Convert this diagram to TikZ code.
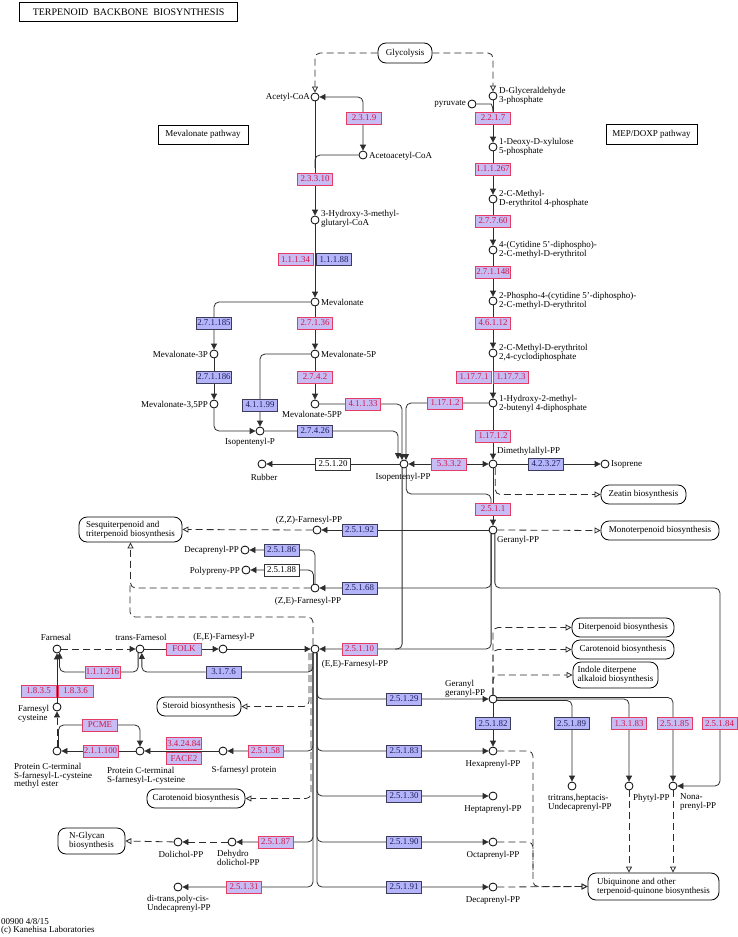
\documentclass[tikz,border=0pt]{standalone}
\usepackage{fontspec}
\setmainfont{Liberation Serif}
\usetikzlibrary{arrows.meta,calc}
\pgfdeclarelayer{back}
\pgfdeclarelayer{bg}
\pgfsetlayers{back,bg,main}
\definecolor{pfill}{RGB}{200,188,245}
\definecolor{pdraw}{RGB}{228,60,100}
\definecolor{ptext}{RGB}{210,20,70}
\definecolor{bfill}{RGB}{180,180,250}
\definecolor{bdraw}{RGB}{60,60,90}
\definecolor{btext}{RGB}{30,30,90}
\definecolor{lc}{RGB}{45,45,45}
\newcommand\kglbl{\fontsize{9}{8.8}\selectfont}
\newcommand\kgenz{\fontsize{8.9}{8.9}\selectfont}
\begin{document}
\begin{tikzpicture}[x=1pt,y=-1pt,
  cpd/.style={circle,draw=black,fill=white,line width=0.8pt,minimum size=8pt,inner sep=0pt},
  lbl/.style={font=\kglbl,inner sep=0pt,align=left},
  enz/.style={rectangle,line width=0.8pt,minimum width=35pt,minimum height=12pt,inner sep=0pt,font=\kgenz},
  pk/.style={enz,draw=pdraw,fill=pfill,text=ptext},
  bl/.style={enz,draw=bdraw,fill=bfill,text=btext},
  wh/.style={enz,draw=black!80,fill=white,text=black},
  mapbox/.style={rectangle,rounded corners=8pt,draw=black,line width=0.8pt,fill=white,font=\kglbl,inner sep=0pt,align=left},
  plainbox/.style={rectangle,draw=black,line width=0.8pt,fill=white,font=\kglbl,inner sep=0pt},
  rxn/.style={draw=lc,line width=0.8pt,rounded corners=5pt},
  dsh/.style={draw=lc,line width=0.8pt,rounded corners=5pt,dash pattern=on 7pt off 4pt},
  arr/.style={-{Triangle[length=6pt,width=6pt]}},
  barr/.style={{Triangle[length=6pt,width=6pt]}-{Triangle[length=6pt,width=6pt]}},
  oarr/.style={-{Triangle[open,length=6pt,width=6pt]}},
]
\begin{pgfonlayer}{back}
\fill[white] (0,0) rectangle (738,937);
\end{pgfonlayer}
\useasboundingbox (0,0) rectangle (738,937);

% ---------- titles ----------
\node[draw,line width=1.2pt,minimum width=218pt,minimum height=19pt,inner sep=0pt,font=\fontsize{10}{10}\selectfont,anchor=north west] (title) at (19,2) {TERPENOID~~BACKBONE~~BIOSYNTHESIS};
\node[plainbox,minimum width=90pt,minimum height=19pt] (mvpath) at (203,134.5) {Mevalonate pathway};
\node[plainbox,minimum width=91pt,minimum height=20pt] (meppath) at (651.5,134) {MEP/DOXP pathway};

% ---------- map boxes ----------
\node[mapbox,minimum width=54pt,minimum height=20pt] (glyc) at (405,53) {Glycolysis};
\node[mapbox,minimum width=85pt,minimum height=19pt] (zeatin) at (643.5,494.5) {Zeatin biosynthesis};
\node[mapbox,minimum width=118pt,minimum height=19pt] (mono) at (660,530.5) {Monoterpenoid biosynthesis};
\node[mapbox,minimum width=103pt,minimum height=25pt] (sesq) at (130.5,529.5) {Sesquiterpenoid and\\triterpenoid biosynthesis};
\node[mapbox,minimum width=102pt,minimum height=19pt] (diterp) at (623,627.5) {Diterpenoid biosynthesis};
\node[mapbox,minimum width=102pt,minimum height=19pt] (carot2) at (623,649.5) {Carotenoid biosynthesis};
\node[mapbox,minimum width=85pt,minimum height=26pt] (indole) at (615.5,675) {Indole diterpene\\alkaloid biosynthesis};
\node[mapbox,minimum width=84pt,minimum height=19pt] (steroid) at (199,706.5) {Steroid biosynthesis};
\node[mapbox,minimum width=98pt,minimum height=19pt] (carot1) at (196,798.5) {Carotenoid biosynthesis};
\node[mapbox,minimum width=67pt,minimum height=26pt] (nglycan) at (91.5,841) {N-Glycan\\biosynthesis};
\node[mapbox,minimum width=131pt,minimum height=27pt] (ubiq) at (653.5,886.5) {Ubiquinone and other\\terpenoid-quinone biosynthesis};

% ---------- compounds ----------
\node[cpd] (acetyl) at (315,97) {};
\node[cpd] (gap) at (493,96) {};
\node[cpd] (pyr) at (472,104) {};
\node[cpd] (acac) at (363,155) {};
\node[cpd] (hmg) at (315,220) {};
\node[cpd] (mev) at (315,302) {};
\node[cpd] (mev3p) at (214,354) {};
\node[cpd] (mev35pp) at (214,404) {};
\node[cpd] (mev5p) at (315,354) {};
\node[cpd] (mev5pp) at (315,404) {};
\node[cpd] (ip) at (260,431) {};
\node[cpd] (ipp) at (404,464) {};
\node[cpd] (dxp) at (493,147) {};
\node[cpd] (mep4p) at (493,199) {};
\node[cpd] (cdpme) at (493,250) {};
\node[cpd] (cdpmep) at (493,301) {};
\node[cpd] (mecpp) at (493,353) {};
\node[cpd] (hmbpp) at (493,403) {};
\node[cpd] (dmapp) at (493,464) {};
\node[cpd] (isoprene) at (605,464) {};
\node[cpd] (rubber) at (262,464) {};
\node[cpd] (gpp) at (493,530) {};
\node[cpd] (zzfpp) at (317,530) {};
\node[cpd] (decapp) at (245,550) {};
\node[cpd] (polypp) at (246,570) {};
\node[cpd] (zefpp) at (315,588) {};
\node[cpd] (farnesal) at (57,649) {};
\node[cpd] (tfol) at (140,649) {};
\node[cpd] (eefp) at (223,649) {};
\node[cpd] (fpp) at (315,649) {};
\node[cpd] (fcys) at (57,707) {};
\node[cpd] (pme) at (57,751) {};
\node[cpd] (pfc) at (140,751) {};
\node[cpd] (sfp) at (223,751) {};
\node[cpd] (dolpp) at (178,842) {};
\node[cpd] (dhdpp) at (232,842) {};
\node[cpd] (undpp) at (178,887) {};
\node[cpd] (ggpp) at (493,699) {};
\node[cpd] (hexpp) at (493,751) {};
\node[cpd] (heppp) at (493,796) {};
\node[cpd] (octpp) at (493,842) {};
\node[cpd] (decpp) at (493,887) {};
\node[cpd] (tundpp) at (572,786) {};
\node[cpd] (phytpp) at (629,786) {};
\node[cpd] (nonpp) at (673,786) {};
\coordinate (ippa) at (398,459);
\coordinate (ippb) at (402,460);
\coordinate (ippc) at (406,460);

% ---------- compound labels ----------
\node[lbl,anchor=east] (lacetyl) at (310,97) {Acetyl-CoA};
\node[lbl,anchor=west] (lgap) at (499,96) {D-Glyceraldehyde\\3-phosphate};
\node[lbl,anchor=east] (lpyr) at (466,104) {pyruvate};
\node[lbl,anchor=west] (lacac) at (369,156) {Acetoacetyl-CoA};
\node[lbl,anchor=west] (lhmg) at (321,219) {3-Hydroxy-3-methyl-\\glutaryl-CoA};
\node[lbl,anchor=west] (lmev) at (321,302) {Mevalonate};
\node[lbl,anchor=east] (lmev3p) at (208,354) {Mevalonate-3P};
\node[lbl,anchor=east] (lmev35pp) at (208,405) {Mevalonate-3,5PP};
\node[lbl,anchor=west] (lmev5p) at (321,354) {Mevalonate-5P};
\node[lbl] (lmev5pp) at (312,414) {Mevalonate-5PP};
\node[lbl] (lip) at (250,442) {Isopentenyl-P};
\node[lbl] (lipp) at (403,477) {Isopentenyl-PP};
\node[lbl] (lrubber) at (264,477) {Rubber};
\node[lbl,anchor=west] (ldxp) at (499,147) {1-Deoxy-D-xylulose\\5-phosphate};
\node[lbl,anchor=west] (lmep) at (499,199) {2-C-Methyl-\\D-erythritol 4-phosphate};
\node[lbl,anchor=west] (lcdpme) at (499,250) {4-(Cytidine 5'-diphospho)-\\2-C-methyl-D-erythritol};
\node[lbl,anchor=west] (lcdpmep) at (499,301) {2-Phospho-4-(cytidine 5'-diphospho)-\\2-C-methyl-D-erythritol};
\node[lbl,anchor=west] (lmecpp) at (499,353) {2-C-Methyl-D-erythritol\\2,4-cyclodiphosphate};
\node[lbl,anchor=west] (lhmbpp) at (499,404) {1-Hydroxy-2-methyl-\\2-butenyl 4-diphosphate};
\node[lbl,anchor=west] (ldmapp) at (497,451) {Dimethylallyl-PP};
\node[lbl,anchor=west] (lisoprene) at (611,465) {Isoprene};
\node[lbl,anchor=west] (lgpp) at (497,540) {Geranyl-PP};
\node[lbl] (lzzfpp) at (309,520) {(Z,Z)-Farnesyl-PP};
\node[lbl,anchor=east] (ldecapp) at (239,550) {Decaprenyl-PP};
\node[lbl,anchor=east] (lpolypp) at (240,571) {Polypreny-PP};
\node[lbl] (lzefpp) at (308,601) {(Z,E)-Farnesyl-PP};
\node[lbl] (lfarnesal) at (56,637) {Farnesal};
\node[lbl] (ltfol) at (141,637) {trans-Farnesol};
\node[lbl] (leefp) at (224,637) {(E,E)-Farnesyl-P};
\node[lbl] (lfpp) at (355,664) {(E,E)-Farnesyl-PP};
\node[lbl,anchor=west] (lfcys) at (18,714) {Farnesyl\\cysteine};
\node[lbl,anchor=west] (lpme) at (14,776) {Protein C-terminal\\S-farnesyl-L-cysteine\\methyl ester};
\node[lbl,anchor=west] (lpfc) at (107,776) {Protein C-terminal\\S-farnesyl-L-cysteine};
\node[lbl] (lsfp) at (244,770) {S-farnesyl protein};
\node[lbl] (ldolpp) at (181,854) {Dolichol-PP};
\node[lbl,anchor=west] (ldhdpp) at (217,858) {Dehydro\\dolichol-PP};
\node[lbl,anchor=west] (lundpp) at (147,904) {di-trans,poly-cis-\\Undecaprenyl-PP};
\node[lbl,anchor=west] (lggpp) at (445,689) {Geranyl\\geranyl-PP};
\node[lbl] (lhexpp) at (493,764) {Hexaprenyl-PP};
\node[lbl] (lheppp) at (493,809) {Heptaprenyl-PP};
\node[lbl] (locpp) at (493,855) {Octaprenyl-PP};
\node[lbl] (ldecpp) at (493,900) {Decaprenyl-PP};
\node[lbl,anchor=west] (ltundpp) at (548,803) {tritrans,heptacis-\\Undecaprenyl-PP};
\node[lbl,anchor=west] (lphytpp) at (633,798) {Phytyl-PP};
\node[lbl,anchor=west] (lnonpp) at (680,802) {Nona-\\prenyl-PP};
\node[lbl,anchor=west] (lfoot) at (1,926.5) {00900 4/8/15\\(c) Kanehisa Laboratories};

% ---------- enzymes ----------
\node[pk] (e2319) at (364,118) {2.3.1.9};
\node[pk] (e23310) at (315,179) {2.3.3.10};
\node[pk] (e11134) at (295.5,259.5) {1.1.1.34};
\node[bl] (e11188) at (334,259.5) {1.1.1.88};
\node[bl] (e271185) at (214,323) {2.7.1.185};
\node[bl] (e271186) at (214,377) {2.7.1.186};
\node[pk] (e27136) at (315,323) {2.7.1.36};
\node[bl] (e41199) at (260,405) {4.1.1.99};
\node[pk] (e2742) at (315,377) {2.7.4.2};
\node[pk] (e41133) at (363,404) {4.1.1.33};
\node[bl] (e27426) at (315,431) {2.7.4.26};
\node[pk] (e11712a) at (445,403) {1.17.1.2};
\node[pk] (e5332) at (449,464) {5.3.3.2};
\node[wh] (e25120) at (333,464) {2.5.1.20};
\node[pk] (e2217) at (493,118) {2.2.1.7};
\node[pk] (e111267) at (493,169) {1.1.1.267};
\node[pk] (e27760) at (493,221) {2.7.7.60};
\node[pk] (e271148) at (493,272) {2.7.1.148};
\node[pk] (e46112) at (493,323) {4.6.1.12};
\node[pk] (e11771) at (474,377) {1.17.7.1};
\node[pk] (e11773) at (511,377) {1.17.7.3};
\node[pk] (e11712b) at (493,436) {1.17.1.2};
\node[bl] (e42327) at (546,464) {4.2.3.27};
\node[pk] (e2511) at (493,509) {2.5.1.1};
\node[bl] (e25192) at (359.5,530) {2.5.1.92};
\node[bl] (e25186) at (281.5,550) {2.5.1.86};
\node[wh] (e25188) at (281.5,570) {2.5.1.88};
\node[bl] (e25168) at (359.5,588) {2.5.1.68};
\node[pk] (e25110) at (359.5,649) {2.5.1.10};
\node[pk] (efolk) at (184,649) {FOLK};
\node[bl] (e3176) at (223.5,672) {3.1.7.6};
\node[pk] (e111216) at (102.5,672) {1.1.1.216};
\node[pk] (e1835) at (38.5,691) {1.8.3.5};
\node[pk] (e1836) at (75.5,691) {1.8.3.6};
\node[pk] (epcme) at (100,725) {PCME};
\node[pk] (e211100) at (100.5,751) {2.1.1.100};
\node[pk] (e342484) at (184,743.5) {3.4.24.84};
\node[pk] (eface2) at (184,758.5) {FACE2};
\node[pk] (e25158) at (265.5,751) {2.5.1.58};
\node[pk] (e25187) at (275.5,842) {2.5.1.87};
\node[pk] (e25131) at (244,887) {2.5.1.31};
\node[bl] (e25129) at (404,699) {2.5.1.29};
\node[bl] (e25183) at (404,751) {2.5.1.83};
\node[bl] (e25130) at (404,796) {2.5.1.30};
\node[bl] (e25190) at (404,842) {2.5.1.90};
\node[bl] (e25191) at (404,887) {2.5.1.91};
\node[bl] (e25182) at (493,723.5) {2.5.1.82};
\node[bl] (e25189) at (571.5,723.5) {2.5.1.89};
\node[pk] (e13183) at (629,723.5) {1.3.1.83};
\node[pk] (e25185) at (674.5,723.5) {2.5.1.85};
\node[pk] (e25184) at (719.5,723.5) {2.5.1.84};

% ---------- connectors ----------
\begin{pgfonlayer}{bg}
\draw[dsh,oarr] (glyc.west) -| (acetyl.north);
\draw[dsh,oarr] (glyc.east) -| (gap.north);
\draw[rxn,barr] (acetyl.east) -| (acac.north);
\draw[rxn] (acac.west) -| (315,168);
\draw[rxn,arr] (acetyl) -- (hmg);
\draw[rxn,arr] (hmg) -- (mev);
\draw[rxn,arr] (mev) -- (mev5p);
\draw[rxn,arr] (mev.west) -| (mev3p.north);
\draw[rxn,arr] (mev3p) -- (mev35pp);
\draw[rxn,arr] (mev35pp.south) |- (ip.west);
\draw[rxn,arr] (mev5p.west) -| (ip.north);
\draw[rxn,arr] (mev5p) -- (mev5pp);
\draw[rxn,arr] (mev5pp.east) -| (ippb);
\draw[rxn,arr] (ip.east) -| (ippa);
\draw[rxn,arr] (hmbpp.west) -| (ippc);
\draw[rxn,barr] (ipp) -- (dmapp);
\draw[rxn,arr] (ipp) -- (rubber);
\draw[rxn,arr] (gap) -- (dxp);
\draw[rxn] (pyr.east) -- (486,104) .. controls (491,104) and (493,106) .. (493,112);
\draw[rxn,arr] (dxp) -- (mep4p);
\draw[rxn,arr] (mep4p) -- (cdpme);
\draw[rxn,arr] (cdpme) -- (cdpmep);
\draw[rxn,arr] (cdpmep) -- (mecpp);
\draw[rxn,arr] (mecpp) -- (hmbpp);
\draw[rxn,arr] (hmbpp) -- (dmapp);
\draw[rxn,arr] (dmapp) -- (isoprene);
\draw[dsh,oarr] (dmapp.-60) |- (zeatin.west);
\draw[rxn,arr] (dmapp) -- (gpp);
\draw[rxn] (ipp.-60) |- (491,494) -- (491,503);
\draw[dsh,oarr] (gpp.east) -- (mono.west);
\draw[rxn,arr] (gpp.west) -- (zzfpp.east);
\draw[rxn,arr] (gpp.-115) |- (zefpp.east);
\draw[rxn,arr] (gpp.-115) |- (fpp.east);
\draw[rxn] (ipp.-115) |- (395,649);
\draw[rxn,arr] (gpp.-65) |- (720,588) |- (nonpp.east);
\draw[rxn,arr] (zefpp.north) |- (decapp.east);
\draw[rxn,arr] (zefpp.110) |- (polypp.east);
\draw[dsh,oarr] (zzfpp.west) -- (sesq.east);
\draw[dsh,oarr] (zefpp.west) -| (sesq.south);
\draw[dsh] (313,645) |- (130,617) -- (130,585);
\draw[dsh,arr] (farnesal.east) -- (tfol.west);
\draw[rxn,arr] (tfol.east) -- (eefp.west);
\draw[rxn,arr] (eefp.east) -- (fpp.west);
\draw[rxn,arr] (313,653) |- (e3176) -| (tfol.-65);
\draw[rxn,arr] (tfol.-115) |- (e111216) -| (farnesal.-55);
\draw[rxn,arr] (fcys) -- (farnesal);
\draw[dsh,arr] (pme) -- (fcys);
\draw[rxn,arr] (pfc) -- (pme);
\draw[rxn,arr] (pme.70) |- (epcme) -| (pfc.north);
\draw[rxn,arr] (sfp) -- (pfc);
\draw[rxn,arr] (313,653) |- (sfp.east);
\draw[dsh,oarr] (309,653) |- (steroid.east);
\draw[dsh,oarr] (311,653) |- (carot1.east);
\draw[rxn,arr] (313,653) |- (dhdpp.east);
\draw[rxn,arr] (313,653) |- (undpp.east);
\draw[dsh,arr] (dhdpp) -- (dolpp);
\draw[dsh,oarr] (dolpp) -- (nglycan.east);
\draw[rxn,arr] (317,653) |- (ggpp.west);
\draw[rxn,arr] (317,653) |- (hexpp.west);
\draw[rxn,arr] (317,653) |- (heppp.west);
\draw[rxn,arr] (317,653) |- (octpp.west);
\draw[rxn,arr] (317,653) |- (decpp.west);
\draw[rxn,arr] (ggpp) -- (hexpp);
\draw[rxn,arr] (ggpp.-20) -| (tundpp.north);
\draw[rxn,arr] (ggpp.0) -| (phytpp.north);
\draw[rxn,arr] (ggpp.20) -| (nonpp.north);
\draw[dsh,oarr] (ggpp.north) |- (diterp.west);
\draw[dsh,oarr] (ggpp.north) |- (carot2.west);
\draw[dsh,oarr] (ggpp.north) |- (indole.west);
\draw[dsh,oarr] (hexpp.east) -| (533,886.5) -- (ubiq.west);
\draw[dsh] (octpp.east) -| (533,870);
\draw[dsh,oarr] (decpp.east) -- (ubiq.west);
\draw[dsh,oarr] (phytpp.south) -- (phytpp.south |- ubiq.north);
\draw[dsh,oarr] (nonpp.south) -- (nonpp.south |- ubiq.north);
\end{pgfonlayer}
\end{tikzpicture}
\end{document}
